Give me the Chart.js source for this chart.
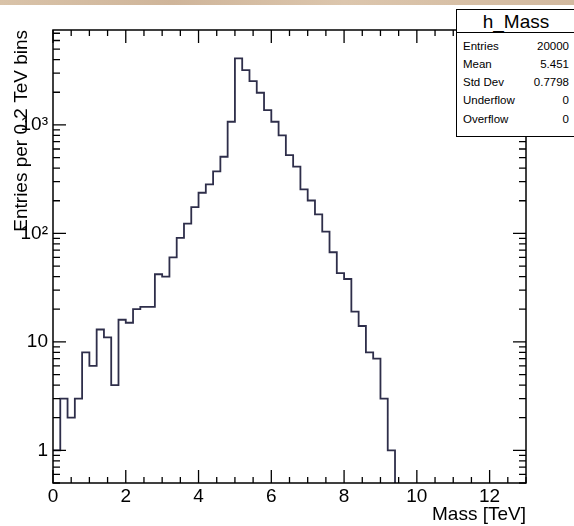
<!DOCTYPE html>
<html>
<head>
<meta charset="utf-8">
<script src="https://cdn.jsdelivr.net/npm/chart.js@4.4.0/dist/chart.umd.min.js"></script>
<style>
    html, body { margin: 0; padding: 0; background: #fff; }
    #wrap { position: relative; width: 574px; height: 526px; overflow: hidden; background: #fff;
            font-family: "Liberation Sans", Arial, sans-serif; color: #000; }
    #strip { position: absolute; left: 0; top: 0; width: 574px; height: 5px;
             background: linear-gradient(90deg, #d9c3a9, #cfb59a 30%, #dcc6ad 60%, #d2b99f); }
    #chart { position: absolute; left: 0; top: 0; }
    #stats { position: absolute; left: 456px; top: 9px; width: 124px; height: 126px;
             border: 1px solid #000; background: #fff; }
    #stats .head { position: absolute; left: 0; top: 0; width: 118px; height: 22px;
                   border-bottom: 1px solid #000; text-align: center; font-size: 19px; line-height: 23px; }
    #stats .row { position: absolute; left: 6px; width: 106px; font-size: 11.5px; line-height: 12px; }
    #stats .row span { position: absolute; right: 0; }
</style>
</head>
<body>
<div id="wrap">
    <canvas id="chart" width="574" height="526"></canvas>
    <div id="strip"></div>
    <div id="stats">
        <div class="head">h_Mass</div>
        <div class="row" style="top:30px">Entries<span>20000</span></div>
        <div class="row" style="top:48px">Mean<span>5.451</span></div>
        <div class="row" style="top:66px">Std Dev<span>0.7798</span></div>
        <div class="row" style="top:84px">Underflow<span>0</span></div>
        <div class="row" style="top:103px">Overflow<span>0</span></div>
    </div>
</div>
<script>
// low edges of the 0.2 TeV bins
const massBins = [0.0, 0.2, 0.4, 0.6, 0.8, 1.0, 1.2, 1.4, 1.6, 1.8,
                  2.0, 2.2, 2.4, 2.6, 2.8, 3.0, 3.2, 3.4, 3.6, 3.8,
                  4.0, 4.2, 4.4, 4.6, 4.8, 5.0, 5.2, 5.4, 5.6, 5.8,
                  6.0, 6.2, 6.4, 6.6, 6.8, 7.0, 7.2, 7.4, 7.6, 7.8,
                  8.0, 8.2, 8.4, 8.6, 8.8, 9.0, 9.2];
const entries = [1, 3, 2, 3, 8, 6, 13, 11, 4, 16,
                 15, 20, 21, 21, 42, 40, 60, 91, 123, 175,
                 237, 283, 373, 509, 1070, 4100, 3200, 2535, 1980, 1368,
                 1070, 800, 527, 412, 255, 201, 150, 104, 67, 43,
                 38, 19, 14, 8, 7, 3, 1];
const histEnd = 9.4;

const massTicks = [0, 2, 4, 6, 8, 10, 12];
const countTicks = [1, 10, 100, 1000];
const countTickLabels = ['1', '10', '10²', '10³'];

const xMin = 0, xMax = 13;
const yMin = 0.5, yMax = 7500;

const FONT = '"Liberation Sans", Arial, sans-serif';

// ROOT style frame with ticks on all four sides
const rootFrame = {
    id: 'rootFrame',
    afterDatasetsDraw(chart) {
        const ctx = chart.ctx;
        const a = chart.chartArea;
        const x = chart.scales.x, y = chart.scales.y;
        ctx.save();
        ctx.strokeStyle = '#000';
        ctx.lineWidth = 1.3;
        ctx.beginPath();
        const seg = (x1, y1, x2, y2) => { ctx.moveTo(x1, y1); ctx.lineTo(x2, y2); };

        for (let v = xMin; v <= xMax; v += 0.5) {
            const px = x.getPixelForValue(v);
            const len = massTicks.includes(v) ? 13 : 6;
            seg(px, a.bottom, px, a.bottom - len);
            seg(px, a.top, px, a.top + len);
        }
        for (let d = 0.1; d <= 1000; d *= 10) {
            for (let k = 1; k <= 9; k++) {
                const v = d * k;
                if (v < yMin || v > yMax) continue;
                const py = y.getPixelForValue(v);
                const len = k === 1 ? 13 : 7;
                seg(a.left, py, a.left + len, py);
                seg(a.right, py, a.right - len, py);
            }
        }
        ctx.stroke();
        ctx.lineWidth = 1.5;
        ctx.strokeRect(a.left, a.top, a.right - a.left, a.bottom - a.top);
        ctx.restore();
    }
};

new Chart(document.getElementById('chart'), {
    type: 'line',
    data: {
        datasets: [{
            data: massBins.map((m, i) => ({ x: m, y: entries[i] })).concat([{ x: histEnd, y: yMin }]),
            stepped: 'before',
            borderColor: '#2e2e4a',
            borderWidth: 1.8,
            pointRadius: 0,
            fill: false
        }]
    },
    options: {
        responsive: false,
        animation: false,
        layout: { padding: { top: 30, right: 48, left: 0, bottom: 0 } },
        plugins: { legend: { display: false }, tooltip: { enabled: false } },
        scales: {
            x: {
                type: 'linear', min: xMin, max: xMax,
                afterBuildTicks: s => { s.ticks = massTicks.map(v => ({ value: v })); },
                afterFit: s => { s.height = 43; },
                grid: { display: false, drawTicks: false },
                border: { display: false },
                ticks: { color: '#000', font: { family: FONT, size: 19 }, padding: 2,
                         maxRotation: 0, autoSkip: false },
                title: { display: true, text: 'Mass [TeV]', align: 'end', color: '#000',
                         font: { family: FONT, size: 19 }, padding: 0 }
            },
            y: {
                type: 'logarithmic', min: yMin, max: yMax,
                afterBuildTicks: s => { s.ticks = countTicks.map(v => ({ value: v })); },
                afterFit: s => { s.width = 53; },
                grid: { display: false, drawTicks: false },
                border: { display: false },
                ticks: { color: '#000', font: { family: FONT, size: 19 }, padding: 5,
                         callback: (v) => countTickLabels[countTicks.indexOf(v)] },
                title: { display: true, text: 'Entries per 0.2 TeV bins', align: 'end', color: '#000',
                         font: { family: FONT, size: 19 }, padding: { top: 10, bottom: 0 } }
            }
        }
    },
    plugins: [rootFrame]
});
</script>
</body>
</html>
